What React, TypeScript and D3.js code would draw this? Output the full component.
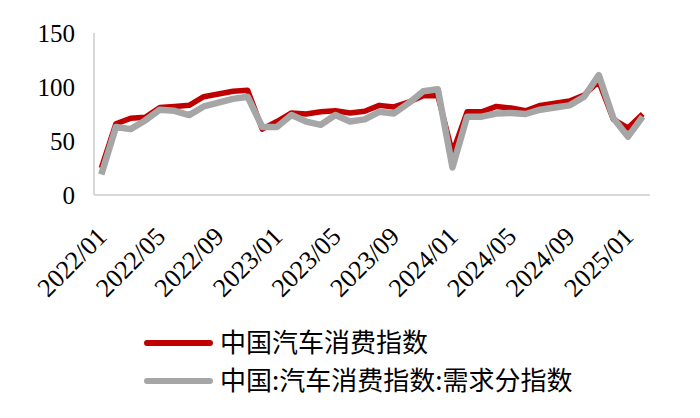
// @ts-nocheck
import * as d3 from "d3";
import { useRef, useEffect } from "react";

const months = [
  "2022/01", "2022/02", "2022/03", "2022/04", "2022/05", "2022/06", "2022/07", "2022/08",
  "2022/09", "2022/10", "2022/11", "2022/12", "2023/01", "2023/02", "2023/03", "2023/04",
  "2023/05", "2023/06", "2023/07", "2023/08", "2023/09", "2023/10", "2023/11", "2023/12",
  "2024/01", "2024/02", "2024/03", "2024/04", "2024/05", "2024/06", "2024/07", "2024/08",
  "2024/09", "2024/10", "2024/11", "2024/12", "2025/01", "2025/02",
];

const consumption = [
  25, 66, 71, 72, 81, 82, 83, 91, 93.5, 96, 97, 61, 68, 76, 75, 77, 78, 76, 77.5, 83,
  81.5, 86, 92, 92, 39, 77, 77, 82, 80.5, 78, 83, 85, 87, 92.5, 105, 70, 62, 75,
];

const demand = [
  19, 63, 61, 69, 79, 78, 74, 82, 85.5, 89, 91, 63, 63, 74, 68, 65, 74, 68, 70, 77,
  75.5, 85, 96, 98, 25.5, 72.5, 72.5, 75.5, 76, 75, 79, 81, 83, 91, 111, 71, 54, 72.5,
];

const tickLabels = [
  "2022/01", "2022/05", "2022/09", "2023/01", "2023/05", "2023/09",
  "2024/01", "2024/05", "2024/09", "2025/01",
];
const yTicks = [0, 50, 100, 150];

const seriesNames = ["中国汽车消费指数", "中国:汽车消费指数:需求分指数"];
const seriesColors = ["#c00000", "#a6a6a6"];

export default function App() {
  const ref = useRef();

  useEffect(() => {
    const svg = d3.select(ref.current);
    svg.selectAll("*").remove();

    const x = d3.scaleBand().domain(months).range([94, 650]);
    const y = d3.scaleLinear().domain([0, 150]).range([195, 33]);
    const cx = (m) => x(m) + x.bandwidth() / 2;

    // axis lines
    svg.append("line")
      .attr("x1", 94).attr("x2", 94).attr("y1", y(150)).attr("y2", y(0))
      .attr("stroke", "#d9d9d9").attr("stroke-width", 2);
    svg.append("line")
      .attr("x1", 94).attr("x2", 650).attr("y1", y(0)).attr("y2", y(0))
      .attr("stroke", "#d9d9d9").attr("stroke-width", 2);

    svg.selectAll(".ylab")
      .data(yTicks)
      .enter()
      .append("text")
      .attr("x", 75)
      .attr("y", (d) => y(d))
      .attr("dy", "0.35em")
      .attr("text-anchor", "end")
      .attr("font-family", "'Liberation Serif', serif")
      .attr("font-size", 25)
      .attr("fill", "#000")
      .text((d) => d);

    svg.selectAll(".xlab")
      .data(tickLabels)
      .enter()
      .append("text")
      .attr("transform", (d) => "translate(" + (cx(d) + 7) + "," + 238 + ") rotate(-45)")
      .attr("text-anchor", "end")
      .attr("font-family", "'Liberation Serif', serif")
      .attr("font-size", 26)
      .attr("fill", "#000")
      .text((d) => d);

    const line = d3.line()
      .x((d, i) => cx(months[i]))
      .y((d) => y(d));

    [consumption, demand].forEach((vals, k) => {
      svg.append("path")
        .datum(vals)
        .attr("d", line)
        .attr("fill", "none")
        .attr("stroke", seriesColors[k])
        .attr("stroke-width", k === 0 ? 5.5 : 6.5)
        .attr("stroke-linejoin", "round");
    });

    const legend = svg.selectAll(".leg")
      .data(seriesNames)
      .enter()
      .append("g")
      .attr("transform", (d, i) => "translate(147," + (343 + i * 38) + ")");
    legend.append("line")
      .attr("x1", 0).attr("x2", 63)
      .attr("stroke", (d, i) => seriesColors[i])
      .attr("stroke-width", 6)
      .attr("stroke-linecap", "round");
    legend.append("text")
      .attr("x", 73)
      .attr("dy", "0.36em")
      .attr("font-family", "'Noto Sans CJK SC', sans-serif")
      .attr("font-size", 26)
      .attr("fill", "#000")
      .text((d) => d);
  }, []);

  return (
    <div style={{ position: "fixed", left: 0, top: 0, background: "#fff" }}>
      <svg ref={ref} width={700} height={418}></svg>
    </div>
  );
}
